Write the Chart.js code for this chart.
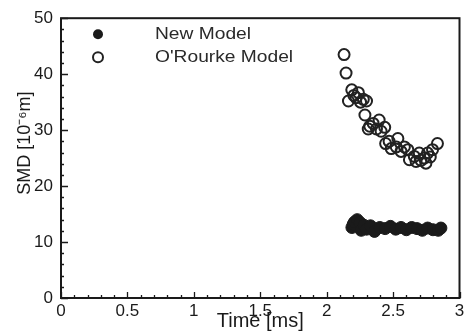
<!DOCTYPE html>
<html>
<head>
<meta charset="utf-8">
<script src="https://cdn.jsdelivr.net/npm/chart.js@4/dist/chart.umd.min.js"></script>
<style>
html,body{margin:0;padding:0;background:#fff;}
#wrap{width:467px;height:333px;}
</style>
</head>
<body>
<div id="wrap"><canvas id="c" width="467" height="333"></canvas></div>
<script>
// ---- data ----
const seriesLabels = ["New Model", "O'Rourke Model"];
const newTime = [2.19, 2.20, 2.21, 2.23, 2.25, 2.26, 2.28, 2.30, 2.33, 2.36, 2.40, 2.44, 2.48, 2.52, 2.56, 2.60, 2.64, 2.68, 2.72, 2.76, 2.80, 2.84, 2.86];
const newSMD  = [12.6, 13.2, 13.6, 14.0, 13.5, 12.1, 13.0, 12.3, 12.9, 11.9, 12.6, 12.4, 12.8, 12.3, 12.6, 12.2, 12.6, 12.4, 12.1, 12.5, 12.2, 12.1, 12.5];
const orTime = [2.131, 2.146, 2.189, 2.239, 2.276, 2.164, 2.221, 2.300, 2.205, 2.255, 2.288, 2.395, 2.325, 2.375, 2.437, 2.313, 2.350, 2.410, 2.444, 2.486, 2.536, 2.524, 2.470, 2.585, 2.611, 2.560, 2.660, 2.697, 2.734, 2.760, 2.797, 2.834, 2.673, 2.747, 2.623, 2.710, 2.780];
const orSMD  = [43.5, 40.2, 37.2, 36.7, 35.5, 35.2, 35.8, 35.2, 36.2, 35.0, 32.7, 31.8, 30.7, 30.2, 30.5, 30.2, 31.2, 29.8, 27.6, 26.7, 28.5, 27.0, 28.0, 27.0, 26.5, 26.2, 25.3, 25.9, 25.0, 25.9, 26.5, 27.6, 24.4, 24.1, 24.7, 24.6, 25.2];
const xTicks = [0, 0.5, 1, 1.5, 2, 2.5, 3];
const yTicks = [0, 10, 20, 30, 40, 50];
const xTitle = "Time [ms]";
const yTitle = "SMD [10\u207B\u2076m]";

const INK = '#1a1a1a';
const FONT = "'Liberation Sans', Arial, sans-serif";

const toXY = (xs, ys) => xs.map((x, i) => ({x, y: ys[i]}));

const framePlugin = {
  id: 'frame',
  beforeDatasetsDraw(chart) {
    const {ctx, chartArea: a, scales: {x, y}} = chart;
    ctx.save();
    ctx.strokeStyle = INK;
    ctx.lineWidth = 2;
    ctx.strokeRect(a.left, a.top, a.right - a.left, a.bottom - a.top);
    ctx.lineWidth = 1.3;
    ctx.beginPath();
    for (let i = 0; i <= 30; i++) {
      const v = i / 10;
      const px = Math.round(x.getPixelForValue(v)) + 0.5;
      const len = (i % 5 === 0) ? 6 : 3;
      ctx.moveTo(px, a.bottom); ctx.lineTo(px, a.bottom - len);
    }
    for (let v = 0; v <= 50; v += 2) {
      const py = Math.round(y.getPixelForValue(v)) + 0.5;
      const len = (v % 10 === 0) ? 7 : 3;
      ctx.moveTo(a.left, py); ctx.lineTo(a.left + len, py);
    }
    ctx.stroke();
    ctx.restore();
  },
  afterDatasetsDraw(chart) {
    const {ctx, chartArea: a} = chart;
    ctx.save();
    chart.data.datasets.forEach((ds, i) => {
      const my = a.top + 16 + i * 23;
      const mx = a.left + 37;
      ctx.beginPath();
      ctx.arc(mx, my, 5, 0, Math.PI * 2);
      if (ds.backgroundColor !== 'rgba(0,0,0,0)') {
        ctx.fillStyle = ds.backgroundColor; ctx.fill();
      } else {
        ctx.lineWidth = 2; ctx.strokeStyle = ds.borderColor; ctx.stroke();
      }
      ctx.save();
      ctx.translate(a.left + 94, my);
      ctx.scale(1.2, 1);
      ctx.font = "16px " + FONT;
      ctx.fillStyle = '#2a2a2a';
      ctx.textBaseline = 'middle';
      ctx.fillText(ds.label, 0, 0);
      ctx.restore();
    });
    ctx.restore();
  }
};

new Chart(document.getElementById('c'), {
  type: 'scatter',
  data: {
    datasets: [
      {
        label: seriesLabels[0],
        data: toXY(newTime, newSMD),
        pointStyle: 'circle',
        pointRadius: 6,
        pointBorderWidth: 1,
        backgroundColor: INK,
        borderColor: INK
      },
      {
        label: seriesLabels[1],
        data: toXY(orTime, orSMD),
        pointStyle: 'circle',
        pointRadius: 5.5,
        pointBorderWidth: 2,
        backgroundColor: 'rgba(0,0,0,0)',
        borderColor: '#222'
      }
    ]
  },
  options: {
    responsive: false,
    animation: false,
    events: [],
    layout: {padding: {top: 12, right: 3, left: 0, bottom: 0}},
    plugins: {legend: {display: false}, tooltip: {enabled: false}},
    scales: {
      x: {
        type: 'linear', min: 0, max: 3,
        afterBuildTicks: s => { s.ticks = xTicks.map(v => ({value: v})); },
        afterFit: s => { s.height = 35; s.paddingRight = 0; s.paddingLeft = 0; },
        grid: {display: false, drawTicks: false, tickLength: 0},
        border: {display: false},
        ticks: {font: {family: FONT, size: 17}, color: INK, padding: 3, maxRotation: 0, autoSkip: false,
                callback: v => String(v)},
        title: {display: true, text: xTitle, font: {family: FONT, size: 20}, color: INK, padding: {top: 0, bottom: 0}}
      },
      y: {
        type: 'linear', min: 0, max: 50,
        afterBuildTicks: s => { s.ticks = yTicks.map(v => ({value: v})); },
        afterFit: s => { s.width = 61; },
        grid: {display: false, drawTicks: false, tickLength: 0},
        border: {display: false},
        ticks: {font: {family: FONT, size: 17}, color: INK, padding: 8, autoSkip: false,
                callback: v => String(v)},
        title: {display: true, text: "      " + yTitle, font: {family: FONT, size: 18}, color: INK, padding: {top: 14, bottom: 0}}
      }
    }
  },
  plugins: [framePlugin]
});
</script>
</body>
</html>
